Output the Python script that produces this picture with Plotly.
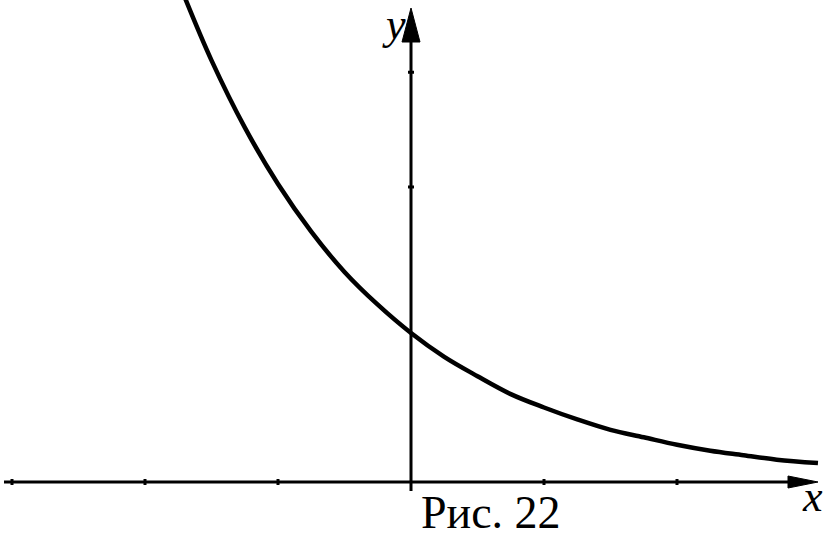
import plotly.graph_objects as go

# Curve points (x in axis units, y in axis units)
curve_x = [-1.70, -1.50, -1.25, -1.00, -0.75, -0.50, -0.25, 0.00, 0.25, 0.50,
           0.75, 1.00, 1.25, 1.50, 1.75, 2.00, 2.25, 2.50, 2.75, 3.06]
curve_y = [3.25, 2.83, 2.38, 2.00, 1.68, 1.41, 1.19, 1.00, 0.84, 0.71,
           0.59, 0.50, 0.42, 0.35, 0.30, 0.25, 0.21, 0.18, 0.15, 0.127]

x_ticks = [-3, -2, -1, 1, 2]
y_ticks = [1.98, 2.75]

caption = "Рис. 22"
x_label = "x"
y_label = "y"

# pixel mapping helpers (axis ranges fill the whole 840x540 canvas)
W, H = 840, 540
X0PX, XUNIT = 411, 133.0
Y0PX, YUNIT = 482, 149.0
xr = [-X0PX / XUNIT, (W - X0PX) / XUNIT]
yr = [(Y0PX - H) / YUNIT, Y0PX / YUNIT]


def dx(px):
    return px / XUNIT


def dy(px):
    return px / YUNIT


fig = go.Figure()
fig.add_trace(go.Scatter(x=curve_x, y=curve_y, mode="lines",
                         line=dict(color="black", width=4.5, shape="spline"),
                         hoverinfo="skip", showlegend=False))

shapes = []
# x axis
shapes.append(dict(type="line", xref="x", yref="y",
                   x0=xr[0] + dx(4), x1=xr[0] + dx(800), y0=0, y1=0,
                   line=dict(color="black", width=3)))
# x arrow head
tip = xr[0] + dx(818)
base = xr[0] + dx(788)
shapes.append(dict(type="path", xref="x", yref="y",
                   path=f"M {base},{dy(6)} L {tip},0 L {base},{-dy(6)} Z",
                   fillcolor="black", line=dict(color="black", width=1)))
# y axis
shapes.append(dict(type="line", xref="x", yref="y",
                   x0=0, x1=0, y0=-dy(9), y1=yr[1] - dy(30),
                   line=dict(color="black", width=3)))
# y arrow head
ytip = yr[1] - dy(8)
ybase = yr[1] - dy(42)
shapes.append(dict(type="path", xref="x", yref="y",
                   path=f"M {-dx(9)},{ybase} L 0,{ytip} L {dx(9)},{ybase} Z",
                   fillcolor="black", line=dict(color="black", width=1)))
# ticks
for t in x_ticks:
    shapes.append(dict(type="line", xref="x", yref="y", x0=t, x1=t,
                       y0=-dy(3), y1=dy(3), line=dict(color="black", width=3)))
for t in y_ticks:
    shapes.append(dict(type="line", xref="x", yref="y", x0=-dx(3), x1=dx(3),
                       y0=t, y1=t, line=dict(color="black", width=3)))

font_serif = "Liberation Serif, Times New Roman, serif"
annotations = [
    dict(text=caption, x=xr[0] + dx(491), y=yr[1] - dy(512), xref="x", yref="y",
         showarrow=False, xanchor="center", yanchor="middle",
         font=dict(family=font_serif, size=46, color="black")),
    dict(text=f"<i>{x_label}</i>", x=xr[0] + dx(812), y=yr[1] - dy(496),
         xref="x", yref="y", showarrow=False, xanchor="center", yanchor="middle",
         font=dict(family=font_serif, size=44, color="black")),
    dict(text=f"<i>{y_label}</i>", x=xr[0] + dx(394), y=yr[1] - dy(24),
         xref="x", yref="y", showarrow=False, xanchor="center", yanchor="middle",
         font=dict(family=font_serif, size=44, color="black")),
]

fig.update_layout(
    width=W, height=H,
    margin=dict(l=0, r=0, t=0, b=0),
    paper_bgcolor="white", plot_bgcolor="white",
    xaxis=dict(range=xr, visible=False, fixedrange=True),
    yaxis=dict(range=yr, visible=False, fixedrange=True),
    shapes=shapes, annotations=annotations,
    showlegend=False,
)

fig.write_html("out.html", config={"displayModeBar": False},
               post_script="document.body.style.margin='0';document.body.style.overflow='hidden';")
